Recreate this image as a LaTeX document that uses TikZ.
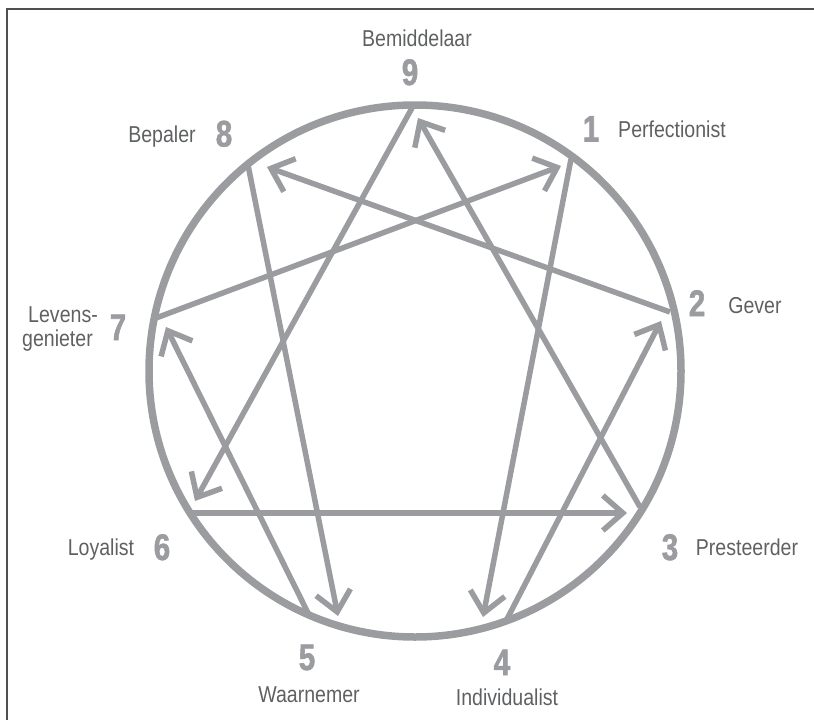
\documentclass[tikz,border=0pt]{standalone}
\usepackage{fontspec}
\setmainfont[FakeStretch=0.85]{Liberation Sans}
\newfontfamily\digitfont[FakeStretch=0.8,FakeBold=1.5]{Liberation Sans Bold}
\usetikzlibrary{arrows.meta}
\definecolor{linegray}{HTML}{9B9CA0}
\definecolor{textgray}{HTML}{5F6062}
\definecolor{framegray}{HTML}{505050}
\begin{document}
\begin{tikzpicture}[x=1pt,y=-1pt,
  lbl/.style={text=textgray,font=\fontsize{23}{24}\selectfont,inner sep=0pt},
  num/.style={text=linegray,font=\digitfont\fontsize{37}{37}\selectfont,inner sep=0pt},
  ring/.style={draw=linegray,line width=7.5pt},
  conn/.style={draw=linegray,line width=5.5pt,-{Straight Barb[length=20pt,width=35pt]}},
  framestyle/.style={draw=framegray,line width=1.5pt}
]
\useasboundingbox (0,0) rectangle (814,720);
\draw[framestyle] (7,720) -- (7,9) -- (814,9);

% circle
\coordinate (c) at (415,371);
\draw[ring] (c) circle[radius=266pt];

% vertices
\coordinate (v9) at (412,108);
\coordinate (v1) at (571,159);
\coordinate (v2) at (670,312);
\coordinate (v3) at (640,507);
\coordinate (v4) at (506,621);
\coordinate (v5) at (310,617);
\coordinate (v6) at (189,513);
\coordinate (v7) at (156,318);
\coordinate (v8) at (248,165);

% arrow tips
\coordinate (t9) at (418,118);
\coordinate (t6) at (195,501);
\coordinate (t3) at (627,513);
\coordinate (t4) at (483,617);
\coordinate (t2) at (661,321);
\coordinate (t8) at (267,167);
\coordinate (t5) at (338,616);
\coordinate (t7) at (166,327);
\coordinate (t1) at (561,166);

% connectors
\draw[conn] (v3) -- (t9);
\draw[conn] (v9) -- (t6);
\draw[conn] (v6) -- (t3);
\draw[conn] (v1) -- (t4);
\draw[conn] (v4) -- (t2);
\draw[conn] (v2) -- (t8);
\draw[conn] (v8) -- (t5);
\draw[conn] (v5) -- (t7);
\draw[conn] (v7) -- (t1);

% numbers
\node[num,anchor=base] (n9) at (410,85) {9};
\node[num,anchor=base] (n1) at (591,141.5) {1};
\node[num,anchor=base] (n2) at (697,316) {2};
\node[num,anchor=base] (n3) at (670,560) {3};
\node[num,anchor=base] (n4) at (502,675) {4};
\node[num,anchor=base] (n5) at (307,670) {5};
\node[num,anchor=base] (n6) at (162,560) {6};
\node[num,anchor=base] (n7) at (118,340) {7};
\node[num,anchor=base] (n8) at (224,146.5) {8};

% labels
\node[lbl,anchor=base] (l9) at (417,46) {Bemiddelaar};
\node[lbl,anchor=base] (l1) at (672,137) {Perfectionist};
\node[lbl,anchor=base] (l2) at (755,313) {Gever};
\node[lbl,anchor=base] (l3) at (747,555) {Presteerder};
\node[lbl,anchor=base] (l4) at (507,705) {Individualist};
\node[lbl,anchor=base] (l5) at (309,702) {Waarnemer};
\node[lbl,anchor=base] (l6) at (101,555) {Loyalist};
\node[lbl,anchor=base east] (l7a) at (98,322) {Levens-};
\node[lbl,anchor=base east] (l7b) at (93,346) {genieter};
\node[lbl,anchor=base] (l8) at (162,142) {Bepaler};
\end{tikzpicture}
\end{document}
